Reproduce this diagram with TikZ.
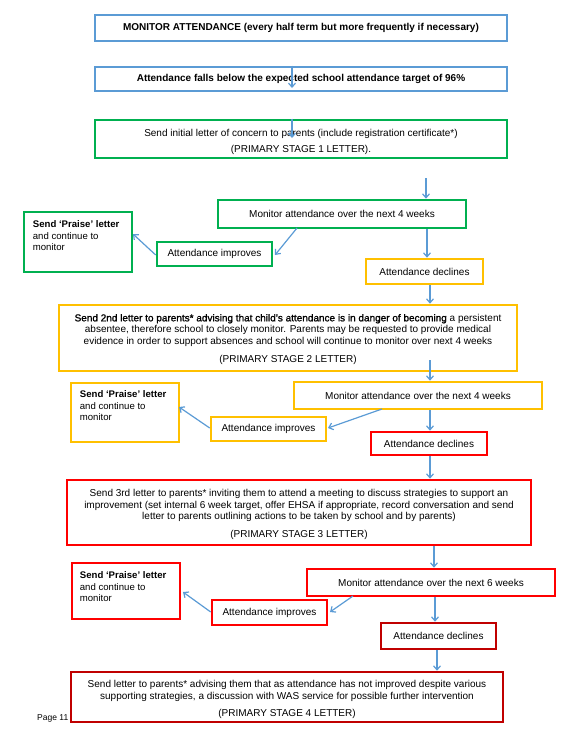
\documentclass[tikz,border=0pt]{standalone}
\usepackage{fontspec}
\setmainfont{Liberation Sans}
\newfontface\fauxbold[FakeBold=1.4]{Liberation Sans}
\usetikzlibrary{arrows.meta}
\definecolor{cblue}{HTML}{5B9BD5}
\definecolor{cgreen}{HTML}{00B050}
\definecolor{cyellow}{HTML}{FFC000}
\definecolor{cred}{HTML}{FF0000}
\definecolor{cdred}{HTML}{C00000}
\tikzset{
  box/.style={draw, line width=2.6pt, inner sep=0pt, align=center, font=\fontsize{10}{11.5}\selectfont},
  btext/.style={inner sep=0pt, align=center, font=\fontsize{10}{11.5}\selectfont},
  ptext/.style={inner sep=0pt, align=left, font=\fontsize{9.6}{11.5}\selectfont, anchor=north west},
  arr/.style={draw=cblue, line width=1.2pt, -{Straight Barb[length=4pt,width=7pt]}},
}
\begin{document}
\begin{tikzpicture}[x=1pt,y=-1pt]
\useasboundingbox (0,0) rectangle (573,736);
% row 0
\node[box, draw=cblue, minimum width=412, minimum height=26] (n1) at (301,28) {\textbf{MONITOR ATTENDANCE (every half term but more frequently if necessary)}};
\node[box, draw=cblue, minimum width=412, minimum height=24] (n2) at (301,79) {\textbf{Attendance falls below the expected school attendance target of 96\%}};
\coordinate (c1) at (292,88);
\draw[arr] (n2.north -| c1) -- (c1);
\node[box, draw=cgreen, minimum width=412, minimum height=38] (n3) at (301,139) {};
\node[btext] (n3t) at ([yshift=-3]n3.center) {Send initial letter of concern to parents (include registration certificate*)\\[4pt](PRIMARY STAGE 1 LETTER).};
\coordinate (c2) at (292,138);
\draw[arr] (n3.north -| c2) -- (c2);
% stage 1 monitoring
\node[box, draw=cgreen, minimum width=248, minimum height=28] (m1) at (342,214) {Monitor attendance over the next 4 weeks};
\coordinate (c3) at (426,178);
\draw[arr] (c3) -- (m1.north -| c3);
\node[box, draw=cgreen, minimum width=108, minimum height=60] (p1) at (78,242) {};
\node[ptext] (p1t) at ([shift={(10,10)}]p1.north west) {\textbf{Send ‘Praise’ letter}\\and continue to\\monitor};
\node[box, draw=cgreen, minimum width=115, minimum height=24] (i1) at (214.5,254) {Attendance improves};
\node[box, draw=cyellow, minimum width=117, minimum height=25] (d1) at (424.5,271.5) {Attendance declines};
\coordinate (c4) at (297,228);
\coordinate (c5) at (275,255);
\draw[arr] (c4) -- (c5);
\coordinate (c6) at (133,234);
\draw[arr] (i1.west |- c5) -- (c6);
\coordinate (c7) at (427,0);
\draw[arr] (m1.south -| c7) -- (d1.north -| c7);
% stage 2
\node[box, draw=cyellow, minimum width=458, minimum height=66] (s2) at (288,338) {};
\node[btext] (s2t) at ([yshift=-1.5]s2.center) {{\fauxbold Send 2nd letter to parents* advising that child’s attendance is in danger of becoming} a persistent\\absentee, therefore school to closely monitor. Parents may be requested to provide medical\\evidence in order to support absences and school will continue to monitor over next 4 weeks\\[7pt](PRIMARY STAGE 2 LETTER)};
\coordinate (c8) at (430,0);
\draw[arr] (d1.south -| c8) -- (s2.north -| c8);
\node[box, draw=cyellow, minimum width=248, minimum height=27] (m2) at (418,395.5) {Monitor attendance over the next 4 weeks};
\coordinate (c9) at (430,360);
\draw[arr] (c9) -- (m2.north -| c9);
\node[box, draw=cyellow, minimum width=108, minimum height=59] (p2) at (125,412.5) {};
\node[ptext] (p2t) at ([shift={(10,9)}]p2.north west) {\textbf{Send ‘Praise’ letter}\\and continue to\\monitor};
\node[box, draw=cyellow, minimum width=115, minimum height=24] (i2) at (268.5,429) {Attendance improves};
\node[box, draw=cred, minimum width=116, minimum height=23] (d2) at (429,443.5) {Attendance declines};
\coordinate (c10) at (382,409);
\coordinate (c11) at (328,428);
\draw[arr] (c10) -- (c11);
\coordinate (c12) at (179,407);
\draw[arr] (i2.west |- c11) -- (c12);
\draw[arr] (m2.south -| c8) -- (d2.north -| c8);
% stage 3
\node[box, draw=cred, minimum width=464, minimum height=65] (s3) at (299,512.5) {};
\node[btext] (s3t) at ([yshift=-2]s3.center) {Send 3rd letter to parents* inviting them to attend a meeting to discuss strategies to support an\\improvement (set internal 6 week target, offer EHSA if appropriate, record conversation and send\\letter to parents outlining actions to be taken by school and by parents)\\[6pt](PRIMARY STAGE 3 LETTER)};
\draw[arr] (d2.south -| c8) -- (s3.north -| c8);
\node[box, draw=cred, minimum width=248, minimum height=27] (m3) at (431,582.5) {Monitor attendance over the next 6 weeks};
\coordinate (c13) at (434,0);
\draw[arr] (s3.south -| c13) -- (m3.north -| c13);
\node[box, draw=cred, minimum width=108, minimum height=56] (p3) at (126,591) {};
\node[ptext] (p3t) at ([shift={(9,10)}]p3.north west) {\textbf{Send ‘Praise’ letter}\\and continue to\\monitor};
\node[box, draw=cred, minimum width=115, minimum height=25] (i3) at (269.5,612.5) {Attendance improves};
\node[box, draw=cdred, minimum width=115, minimum height=26] (d3) at (438.5,636) {Attendance declines};
\coordinate (c14) at (353,596);
\coordinate (c15) at (330,612);
\draw[arr] (c14) -- (c15);
\coordinate (c16) at (183,592);
\draw[arr] (i3.west |- c15) -- (c16);
\coordinate (c17) at (435,0);
\draw[arr] (m3.south -| c17) -- (d3.north -| c17);
% stage 4
\node[box, draw=cdred, minimum width=432, minimum height=50] (s4) at (287,697) {};
\node[btext] (s4t) at ([yshift=-2.5]s4.center) {Send letter to parents* advising them that as attendance has not improved despite various\\supporting strategies, a discussion with WAS service for possible further intervention\\[6pt](PRIMARY STAGE 4 LETTER)};
\coordinate (c18) at (437,0);
\draw[arr] (d3.south -| c18) -- (s4.north -| c18);
\node[inner sep=0pt, anchor=base west, font=\fontsize{8.5}{9}\selectfont] (pg) at (37,720) {Page 11};
\end{tikzpicture}
\end{document}
